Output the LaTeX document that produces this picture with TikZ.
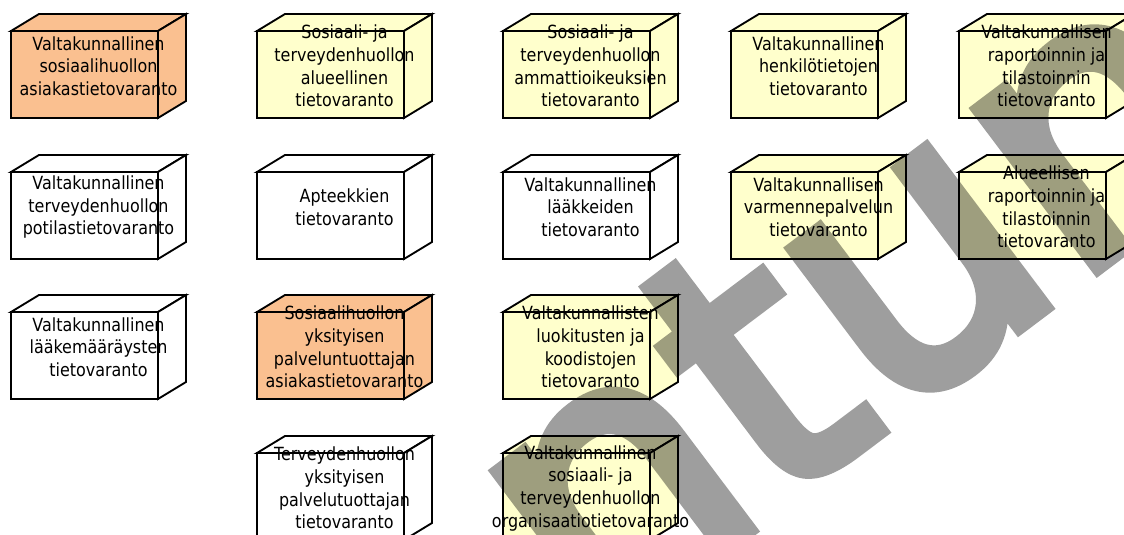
\documentclass[tikz,border=0pt]{standalone}
\usepackage{fontspec}
\setmainfont{DejaVu Sans}[FakeStretch=0.88]
\newfontfamily\leimafont{DejaVu Sans}[FakeBold=4]
\definecolor{varantooranssi}{RGB}{250,192,144}
\definecolor{varantokeltainen}{RGB}{255,255,204}

% cuboid with its text: name, x, y (front top left), fill style, text
\newcommand\varanto[5]{%
  \filldraw[#4] (#2,#3) rectangle ++(147,87);
  \filldraw[#4] (#2,#3) -- ++(28,-17) -- ++(147,0) -- ++(-28,17) -- cycle;
  \filldraw[#4] ({#2+147},#3) -- ++(28,-17) -- ++(0,87) -- ++(-28,17) -- cycle;
  \node[varantoteksti] (#1) at ({#2+87.5},{#3+35}) {#5};
}

\begin{document}
\begin{tikzpicture}[x=0.75pt,y=-0.75pt,line width=1.4pt,
  oranssi/.style={draw=black,fill=varantooranssi},
  keltainen/.style={draw=black,fill=varantokeltainen},
  valkoinen/.style={draw=black,fill=white},
  varantoteksti/.style={align=center,inner sep=0pt,
    font=\fontsize{13.6}{17}\selectfont},
  leima/.style={rotate=37,inner sep=0pt,text=black,
    font=\leimafont\fontsize{272}{272}\selectfont}]
  \useasboundingbox (0,0) rectangle (1124,535);
  \clip (0,0) rectangle (1124,535);
  % sarake 1
  \varanto{sosasiakas}{11}{31}{oranssi}{Valtakunnallinen\\sosiaalihuollon\\asiakastietovaranto}
  \varanto{potilas}{11}{172}{valkoinen}{Valtakunnallinen\\terveydenhuollon\\potilastietovaranto}
  \varanto{resepti}{11}{312}{valkoinen}{Valtakunnallinen\\lääkemääräysten\\tietovaranto}
  % sarake 2
  \varanto{alueellinen}{257}{31}{keltainen}{Sosiaali- ja\\terveydenhuollon\\alueellinen\\tietovaranto}
  \varanto{apteekit}{257}{172}{valkoinen}{Apteekkien\\tietovaranto}
  \varanto{yksisos}{257}{312}{oranssi}{Sosiaalihuollon\\yksityisen\\palveluntuottajan\\asiakastietovaranto}
  \varanto{yksterv}{257}{453}{valkoinen}{Terveydenhuollon\\yksityisen\\palvelutuottajan\\tietovaranto}
  % sarake 3
  \varanto{ammatti}{503}{31}{keltainen}{Sosiaali- ja\\terveydenhuollon\\ammattioikeuksien\\tietovaranto}
  \varanto{laakkeet}{503}{172}{valkoinen}{Valtakunnallinen\\lääkkeiden\\tietovaranto}
  \varanto{koodistot}{503}{312}{keltainen}{Valtakunnallisten\\luokitusten ja\\koodistojen\\tietovaranto}
  \varanto{organisaatiot}{503}{453}{keltainen}{Valtakunnallinen\\sosiaali- ja\\terveydenhuollon\\organisaatiotietovaranto}
  % sarake 4
  \varanto{henkilot}{731}{31}{keltainen}{Valtakunnallinen\\henkilötietojen\\tietovaranto}
  \varanto{varmenne}{731}{172}{keltainen}{Valtakunnallisen\\varmennepalvelun\\tietovaranto}
  % sarake 5
  \varanto{raportointi}{959}{31}{keltainen}{Valtakunnallisen\\raportoinnin ja\\tilastoinnin\\tietovaranto}
  \varanto{alueraportointi}{959}{172}{keltainen}{Alueellisen\\raportoinnin ja\\tilastoinnin\\tietovaranto}
  % vesileima
  \begin{scope}[transparency group,opacity=0.38]
    \node[leima] (vesileima) at (848,300) {ntun};
  \end{scope}
\end{tikzpicture}
\end{document}
